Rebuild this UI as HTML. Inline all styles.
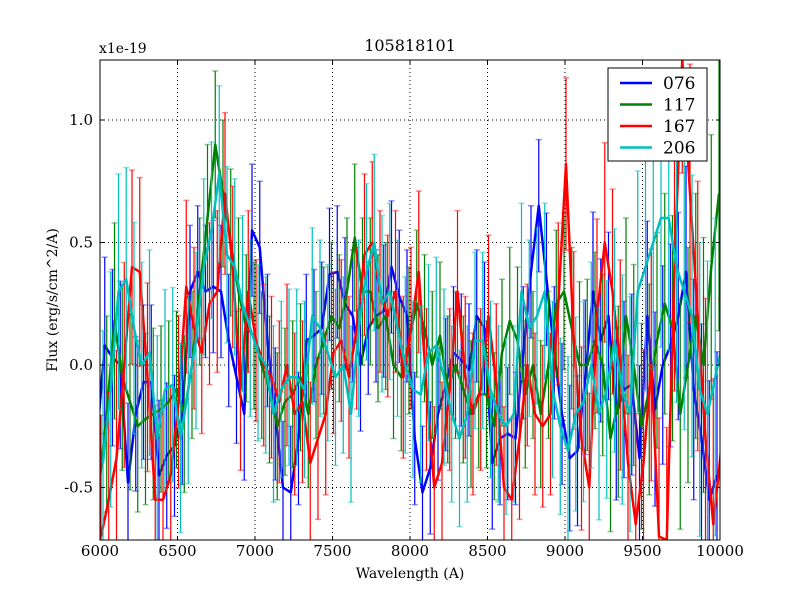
<!DOCTYPE html>
<html><head><meta charset="utf-8"><style>
html,body{margin:0;padding:0;background:#fff;width:800px;height:600px;overflow:hidden;}
svg{display:block;font-family:"DejaVu Serif","Liberation Serif",serif;}
</style></head><body>
<svg id="chart" width="800" height="600">
<rect x="0" y="0" width="800" height="600" fill="#fff"/>
<defs><clipPath id="clip"><rect x="100" y="60" width="620" height="480"/></clipPath></defs>
<g id="grid"></g>
<g id="series" clip-path="url(#clip)"></g>
<rect x="100" y="60" width="620" height="480" fill="none" stroke="#000" stroke-width="1"/>
<g id="ticks"></g>
<text x="410" y="51" font-size="16" text-anchor="middle">105818101</text>
<text x="99" y="53" font-size="14">x1e-19</text>
<text x="410" y="578" font-size="14" text-anchor="middle">Wavelength (A)</text>
<text x="57" y="300" font-size="14" text-anchor="middle" transform="rotate(-90 57 300)">Flux (erg/s/cm^2/A)</text>
<g id="legend">
<rect x="608" y="68" width="99" height="93" fill="#fff" stroke="#000" stroke-width="1"/>
</g>
</svg>
<script>
const wavelengths = [];
for (let w = 6000; w <= 10000; w += 50) wavelengths.push(w);
const names = ["076","117","167","206"];
const colors = ["#0000ff","#008000","#ff0000","#00bfbf"];
const s076 = [-0.3,0.08,0.03,0.0,-0.48,-0.2,-0.07,-0.07,-0.45,-0.37,-0.33,-0.2,0.3,0.38,0.3,0.32,0.3,0.1,-0.05,-0.2,0.55,0.48,0.1,-0.2,-0.5,-0.52,-0.3,0.1,0.12,0.15,0.37,0.38,0.25,0.2,0.0,0.15,0.2,0.22,0.4,0.28,0.2,-0.3,-0.52,-0.42,-0.2,-0.08,0.05,0.02,-0.02,0.2,0.15,-0.4,-0.3,-0.28,-0.3,0.05,0.38,0.65,0.35,0.05,-0.2,-0.38,-0.35,-0.05,0.3,0.1,0.2,-0.2,-0.1,-0.08,-0.38,0.2,-0.18,0.0,0.08,0.2,0.38,-0.1,-0.3,-0.55,-0.45];
const s117 = [-0.5,-0.2,0.18,-0.05,-0.15,-0.25,-0.22,-0.2,-0.18,-0.15,-0.1,-0.2,0.0,0.3,0.6,0.9,0.7,0.5,0.3,0.15,0.12,0.0,-0.1,-0.25,-0.15,-0.12,-0.05,-0.2,0.0,0.1,0.2,0.15,0.3,0.52,0.3,0.3,0.15,0.2,0.0,-0.05,0.1,0.25,0.15,0.0,0.12,-0.1,0.0,-0.1,-0.2,-0.12,-0.12,-0.25,0.05,0.18,0.1,-0.12,0.0,-0.2,0.0,0.25,0.3,0.15,0.0,0.0,0.1,0.0,-0.3,-0.15,0.2,0.0,-0.25,-0.1,0.1,0.25,0.15,-0.2,0.0,0.2,0.0,0.4,0.7];
const s167 = [-0.7,-0.55,-0.38,0.0,0.4,0.38,-0.05,-0.55,-0.55,-0.45,-0.15,0.32,0.15,0.05,0.25,0.3,0.7,0.4,-0.1,0.3,0.1,0.0,-0.05,-0.15,0.0,-0.2,-0.15,-0.4,-0.3,-0.2,0.05,0.1,-0.05,0.15,0.45,0.5,0.3,0.2,0.3,-0.05,0.15,0.38,-0.1,-0.5,-0.4,-0.1,0.3,-0.05,-0.2,-0.1,0.2,-0.08,-0.5,-0.55,-0.3,0.0,-0.2,-0.25,-0.2,0.25,0.82,0.1,-0.3,-0.5,0.2,0.5,0.3,0.0,-0.4,-0.65,-0.4,0.0,-0.7,-0.75,0.4,1.3,0.7,0.2,-0.3,-0.65,-0.35];
const s206 = [-0.4,-0.1,0.3,0.35,0.15,0.0,0.05,-0.3,-0.1,-0.08,-0.3,-0.1,0.1,0.4,0.55,0.78,0.45,0.4,0.25,0.15,0.05,0.0,-0.2,-0.1,-0.05,-0.05,-0.1,0.2,0.15,0.05,-0.05,0.0,-0.2,0.15,0.38,0.5,0.25,0.3,0.15,0.0,-0.1,-0.12,0.05,0.08,-0.05,-0.2,-0.3,-0.2,0.1,0.1,-0.1,-0.2,-0.25,-0.2,0.3,0.15,0.2,0.3,-0.1,-0.25,-0.35,-0.2,-0.15,0.0,-0.2,-0.1,0.1,-0.1,-0.2,0.3,0.4,0.5,0.6,0.6,0.4,0.3,0.2,-0.1,-0.2,-0.05,0.1];
const errs = [0.45,0.4,0.4,0.38,0.36,0.35,0.35,0.35,0.34,0.33,0.32,0.32,0.3,0.3,0.3,0.3,0.3,0.3,0.3,0.3,0.3,0.3,0.3,0.3,0.3,0.3,0.3,0.3,0.3,0.3,0.3,0.3,0.3,0.3,0.3,0.3,0.3,0.3,0.3,0.3,0.3,0.3,0.3,0.3,0.3,0.3,0.3,0.3,0.3,0.3,0.3,0.3,0.3,0.3,0.3,0.3,0.3,0.3,0.3,0.3,0.32,0.33,0.34,0.35,0.36,0.37,0.38,0.39,0.4,0.41,0.42,0.43,0.44,0.45,0.46,0.47,0.48,0.5,0.52,0.54,0.56];
const xTicks = [6000,6500,7000,7500,8000,8500,9000,9500,10000];
const yTicks = [-0.5,0.0,0.5,1.0];
const yTickLabels = ["-0.5","0.0","0.5","1.0"];
const allSeries = [s076,s117,s167,s206];

const NS="http://www.w3.org/2000/svg";
const X = w => 100 + (w-6000)/4000*620;
const Y = v => 365 - v*245;
const clampY = y => Math.max(60, Math.min(540, y));
function mk(tag, attrs, parent){const e=document.createElementNS(NS,tag);for(const k in attrs)e.setAttribute(k,attrs[k]);parent.appendChild(e);return e;}
const grid=document.getElementById('grid'), ticks=document.getElementById('ticks'), ser=document.getElementById('series'), leg=document.getElementById('legend');

xTicks.forEach(t=>{
  const x=X(t);
  if(t>6000&&t<10000){const g=mk('line',{x1:x,y1:60,x2:x,y2:540,stroke:'#000','stroke-dasharray':'1,3','stroke-width':1},grid);
  
  }
  mk('line',{x1:x,y1:540,x2:x,y2:536,stroke:'#000'},ticks);
  mk('line',{x1:x,y1:60,x2:x,y2:64,stroke:'#000'},ticks);
  const tx=mk('text',{x:x,y:556,'font-size':15,'text-anchor':'middle'},ticks);
  tx.textContent=t;
  
  
});
yTicks.forEach((t,i)=>{
  const y=Y(t);
  const g=mk('line',{x1:100,y1:y,x2:720,y2:y,stroke:'#000','stroke-dasharray':'1,3','stroke-width':1},grid);
  
  
  mk('line',{x1:100,y1:y,x2:104,y2:y,stroke:'#000'},ticks);
  mk('line',{x1:720,y1:y,x2:716,y2:y,stroke:'#000'},ticks);
  const tx=mk('text',{x:93,y:y+5,'font-size':15,'text-anchor':'end'},ticks);
  tx.textContent=yTickLabels[i];
  
  
});

allSeries.forEach((vals,si)=>{
  const g=mk('g',{},ser);
  
  
  const off=(si-1.5)*2;
  vals.forEach((v,i)=>{
    const x=X(wavelengths[i])+off, e=errs[i]*(0.9+0.1*si);
    const yt=Y(v+e), yb=Y(v-e);
    const b=mk('line',{x1:x,y1:clampY(yt),x2:x,y2:clampY(yb),stroke:colors[si],'stroke-width':1.2},g);
    
    
    if(yt>=60&&yt<=540) mk('line',{x1:x-3,y1:yt,x2:x+3,y2:yt,stroke:colors[si],'stroke-opacity':0.45,'stroke-width':1.5},g);
    if(yb>=60&&yb<=540) mk('line',{x1:x-3,y1:yb,x2:x+3,y2:yb,stroke:colors[si],'stroke-opacity':0.45,'stroke-width':1.5},g);
  });
  const p=mk('polyline',{points:vals.map((v,i)=>(X(wavelengths[i])+off)+','+clampY(Y(v))).join(' '),fill:'none',stroke:colors[si],'stroke-width':2.5,'stroke-linejoin':'round'},g);
  
  
});

names.forEach((n,i)=>{
  const y=83+i*21.5;
  const l=mk('line',{x1:620,y1:y,x2:652,y2:y,stroke:colors[i],'stroke-width':2.5},leg);
  
  
  const t=mk('text',{x:663,y:y+6,'font-size':17},leg);
  t.textContent=n;
  
  
});
</script>
</body></html>
